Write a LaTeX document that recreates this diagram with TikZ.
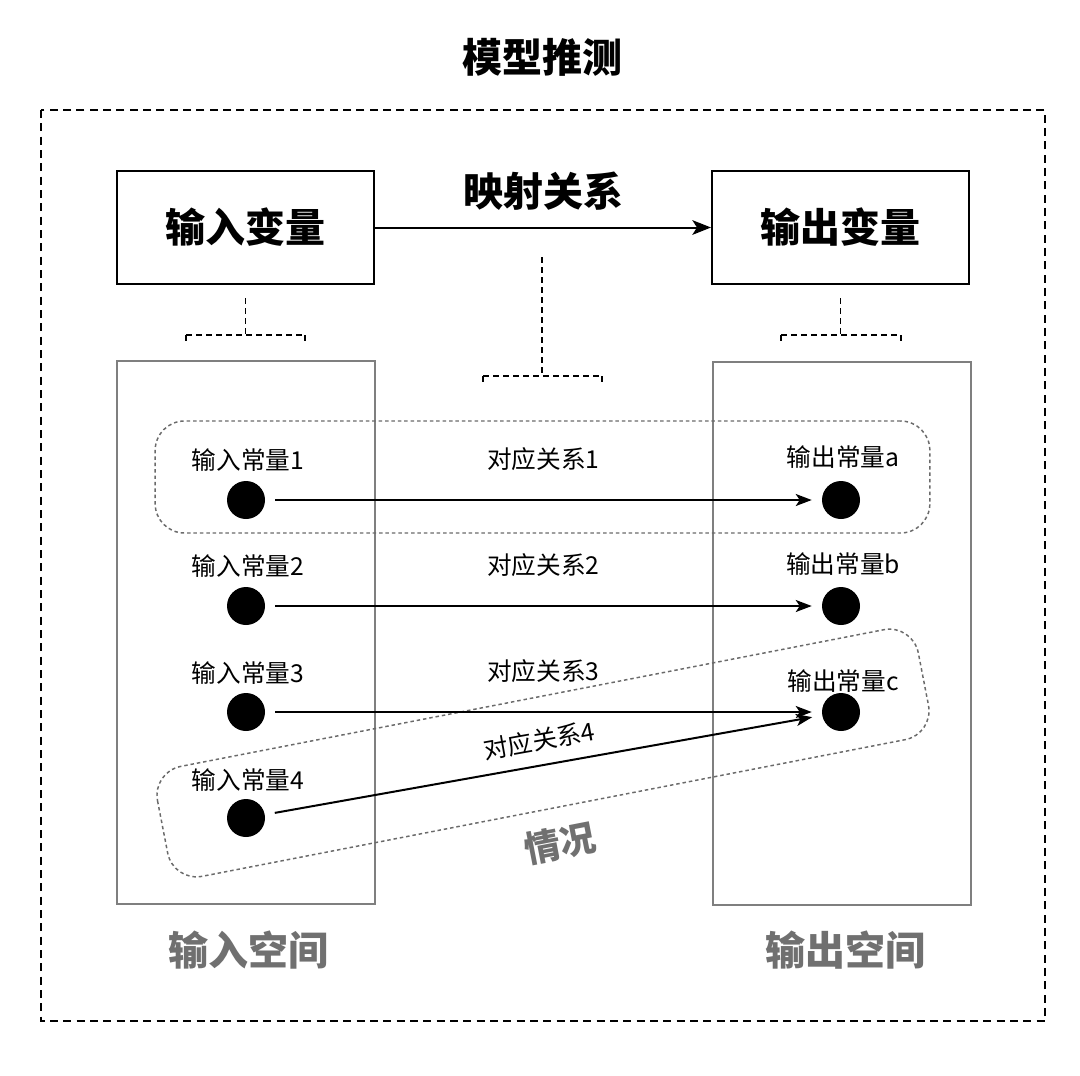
\documentclass[tikz,border=0pt]{standalone}
\usepackage{fontspec}
\setmainfont{Noto Sans CJK SC}
\usetikzlibrary{arrows.meta}
\definecolor{spacegray}{HTML}{7F7F7F}
\definecolor{textgray}{HTML}{707070}
\definecolor{casegray}{HTML}{6A6A6A}
\begin{document}
\begin{tikzpicture}[x=0.75pt,y=-0.75pt,
  bigtext/.style={font=\fontsize{30}{36}\selectfont\bfseries},
  smalltext/.style={font=\fontsize{18.5}{22}\selectfont},
  varbox/.style={draw,line width=1.5pt,minimum width=192.75pt,minimum height=84.75pt,inner sep=0pt,bigtext},
  spacebox/.style={draw=spacegray,line width=1.5pt,minimum width=193.5pt,minimum height=407.25pt,inner sep=0pt},
  caseline/.style={draw=casegray,line width=1.1pt,dash pattern=on 2.6pt off 2.2pt,rounded corners=22pt},
  casebox/.style={caseline,minimum width=581pt,minimum height=84pt,inner sep=0pt},
  dot/.style={circle,fill=black,minimum size=28.5pt,inner sep=0pt},
  tip/.style={-{Stealth[length=12pt,width=9pt,inset=3pt]}},
  link/.style={line width=1.5pt,tip,shorten <=7.5pt,shorten >=7.5pt},
  bracket/.style={line width=1.1pt,dash pattern=on 4.5pt off 3pt},
  tick/.style={line width=1.1pt},
  spacelabel/.style={bigtext,text=textgray}
]
\useasboundingbox (0,0) rectangle (1080,1075);
\fill[white] (0,0) rectangle (1080,1075);

% title and frame
\node[bigtext] (title) at (542,57) {模型推测};
\draw[line width=1.2pt,dash pattern=on 6pt off 4pt] (41,110) rectangle (1045,1021);

% variable boxes
\node[varbox] (iv) at (245.5,227.5) {输入变量};
\node[varbox] (ov) at (840.5,227.5) {输出变量};
\draw[line width=1.5pt,-{Stealth[length=14pt,width=11pt,inset=3.5pt]}] (iv.east) -- node[above=9pt,bigtext] (maplabel) {映射关系} (ov.west);

% dashed brackets
\draw[bracket] ([yshift=-9.75pt]iv.south) -- ++(0,38);
\draw[bracket] (186,335) -- (305,335);
\draw[tick] (186,335) -- (186,341) (305,335) -- (305,341);
\draw[bracket] ([yshift=-9.75pt]ov.south) -- ++(0,38);
\draw[bracket] (781,335) -- (901,335);
\draw[tick] (781,335) -- (781,341) (901,335) -- (901,341);
\draw[bracket] (542,257) -- (542,376);
\draw[bracket] (483,376) -- (602,376);
\draw[tick] (483,376) -- (483,382) (602,376) -- (602,382);

% spaces
\node[spacebox] (ispace) at (246,632.5) {};
\node[spacebox] (ospace) at (841.5,633.5) {};
\node[spacelabel] (ilab) at (248,950) {输入空间};
\node[spacelabel] (olab) at (845,950) {输出空间};

% case boxes
\node[casebox] (case1) at (542.5,477) {};
\begin{scope}[shift={(543,753)},rotate=11]
  \draw[caseline] (-387.5,-56) rectangle (387.5,56);
\end{scope}
\node[font=\fontsize{27}{32}\selectfont\bfseries,text=textgray,rotate=11] (caselab) at (560,843) {情况};

% dots
\node[dot] (i1) at (246,500) {};
\node[dot] (i2) at (246,606) {};
\node[dot] (i3) at (246,712) {};
\node[dot] (i4) at (246,818) {};
\node[dot] (oa) at (841,500) {};
\node[dot] (ob) at (841,606) {};
\node[dot] (oc) at (841,712) {};

% dot labels
\node[smalltext] (li1) at (248,460) {输入常量1};
\node[smalltext] (li2) at (248,566) {输入常量2};
\node[smalltext] (li3) at (248,673) {输入常量3};
\node[smalltext] (li4) at (248,780) {输入常量4};
\node[smalltext] (loa) at (843,457) {输出常量a};
\node[smalltext] (lob) at (843,564) {输出常量b};
\node[smalltext] (loc) at (843,681) {输出常量c};

% mappings
\draw[link] (i1) -- node[smalltext,above=18pt] (r1) {对应关系1} (oa);
\draw[link] (i2) -- node[smalltext,above=18pt] (r2) {对应关系2} (ob);
\draw[link] (i3) -- node[smalltext,above=18pt] (r3) {对应关系3} (oc);
\draw[link] (i4) -- node[smalltext,above=6pt,sloped] (r4) {对应关系4} (oc);
\end{tikzpicture}
\end{document}
